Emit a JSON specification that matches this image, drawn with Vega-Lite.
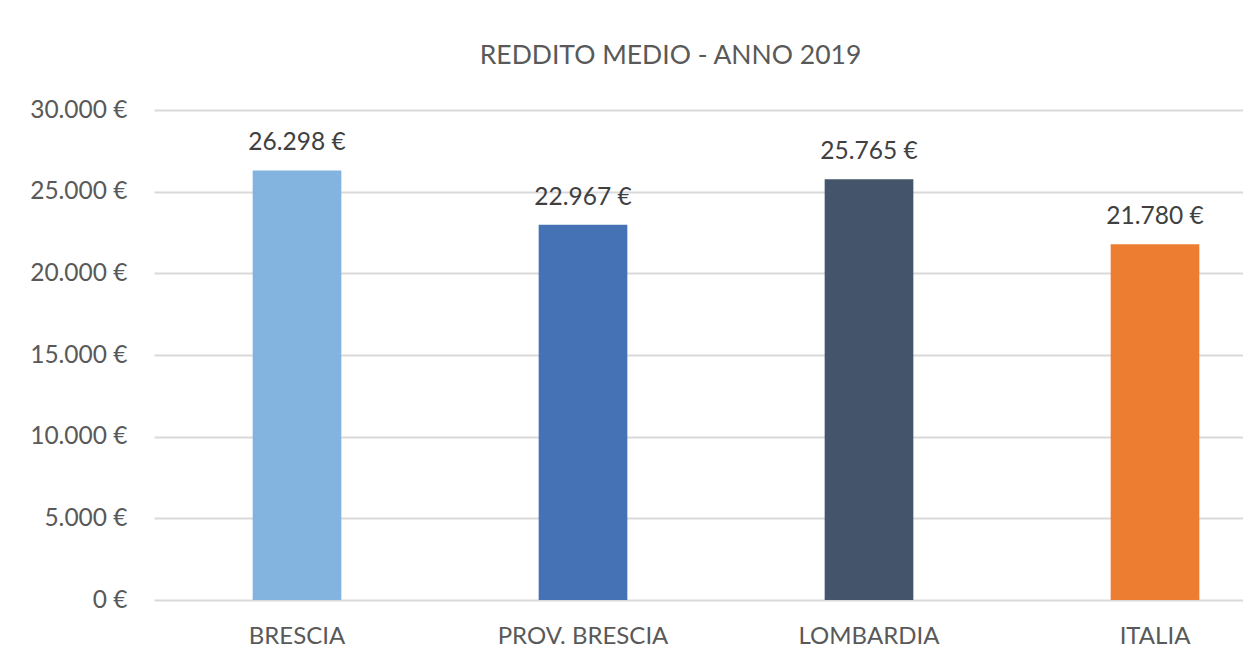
{
  "$schema": "https://vega.github.io/schema/vega-lite/v6.json",
  "width": 1089,
  "height": 490,
  "autosize": "none",
  "padding": {"left": 154, "top": 110, "right": 0, "bottom": 64},
  "background": "#ffffff",
  "title": {
    "text": "REDDITO MEDIO - ANNO 2019",
    "font": "Lato",
    "fontSize": 26.5,
    "fontWeight": "normal",
    "color": "#595959",
    "anchor": "middle",
    "dx": -28,
    "offset": 28
  },
  "data": {
    "values": [
      {"area": "BRESCIA", "reddito": 26298},
      {"area": "PROV. BRESCIA", "reddito": 22967},
      {"area": "LOMBARDIA", "reddito": 25765},
      {"area": "ITALIA", "reddito": 21780}
    ]
  },
  "encoding": {
    "x": {
      "field": "area",
      "type": "nominal",
      "sort": null,
      "scale": {"range": [0, 1144], "paddingInner": 0.69, "paddingOuter": 0.345},
      "axis": {
        "title": null,
        "domain": false,
        "ticks": false,
        "labelAngle": 0,
        "labelFont": "Lato",
        "labelFontSize": 24,
        "labelColor": "#595959",
        "labelPadding": 24
      }
    },
    "y": {
      "field": "reddito",
      "type": "quantitative",
      "scale": {"domain": [0, 30000]},
      "axis": {
        "title": null,
        "domain": false,
        "ticks": false,
        "values": [0, 5000, 10000, 15000, 20000, 25000, 30000],
        "format": "$,.0f",
        "labelFont": "Lato",
        "labelFontSize": 24.5,
        "labelColor": "#595959",
        "labelPadding": 27,
        "gridColor": "#d9d9d9",
        "gridWidth": 2
      }
    }
  },
  "layer": [
    {
      "mark": {"type": "bar"},
      "encoding": {
        "color": {
          "field": "area",
          "type": "nominal",
          "sort": null,
          "scale": {
            "domain": ["BRESCIA", "PROV. BRESCIA", "LOMBARDIA", "ITALIA"],
            "range": ["#83b3df", "#4472b4", "#44546a", "#ed7d31"]
          },
          "legend": null
        }
      }
    },
    {
      "mark": {
        "type": "text",
        "font": "Lato",
        "fontSize": 24.5,
        "color": "#404040",
        "baseline": "alphabetic",
        "dy": -20
      },
      "encoding": {
        "text": {"field": "reddito", "type": "quantitative", "format": "$,.0f"}
      }
    }
  ],
  "config": {
    "view": {"stroke": null},
    "locale": {
      "number": {
        "decimal": ",",
        "thousands": ".",
        "grouping": [3],
        "currency": ["", " €"]
      }
    }
  }
}
